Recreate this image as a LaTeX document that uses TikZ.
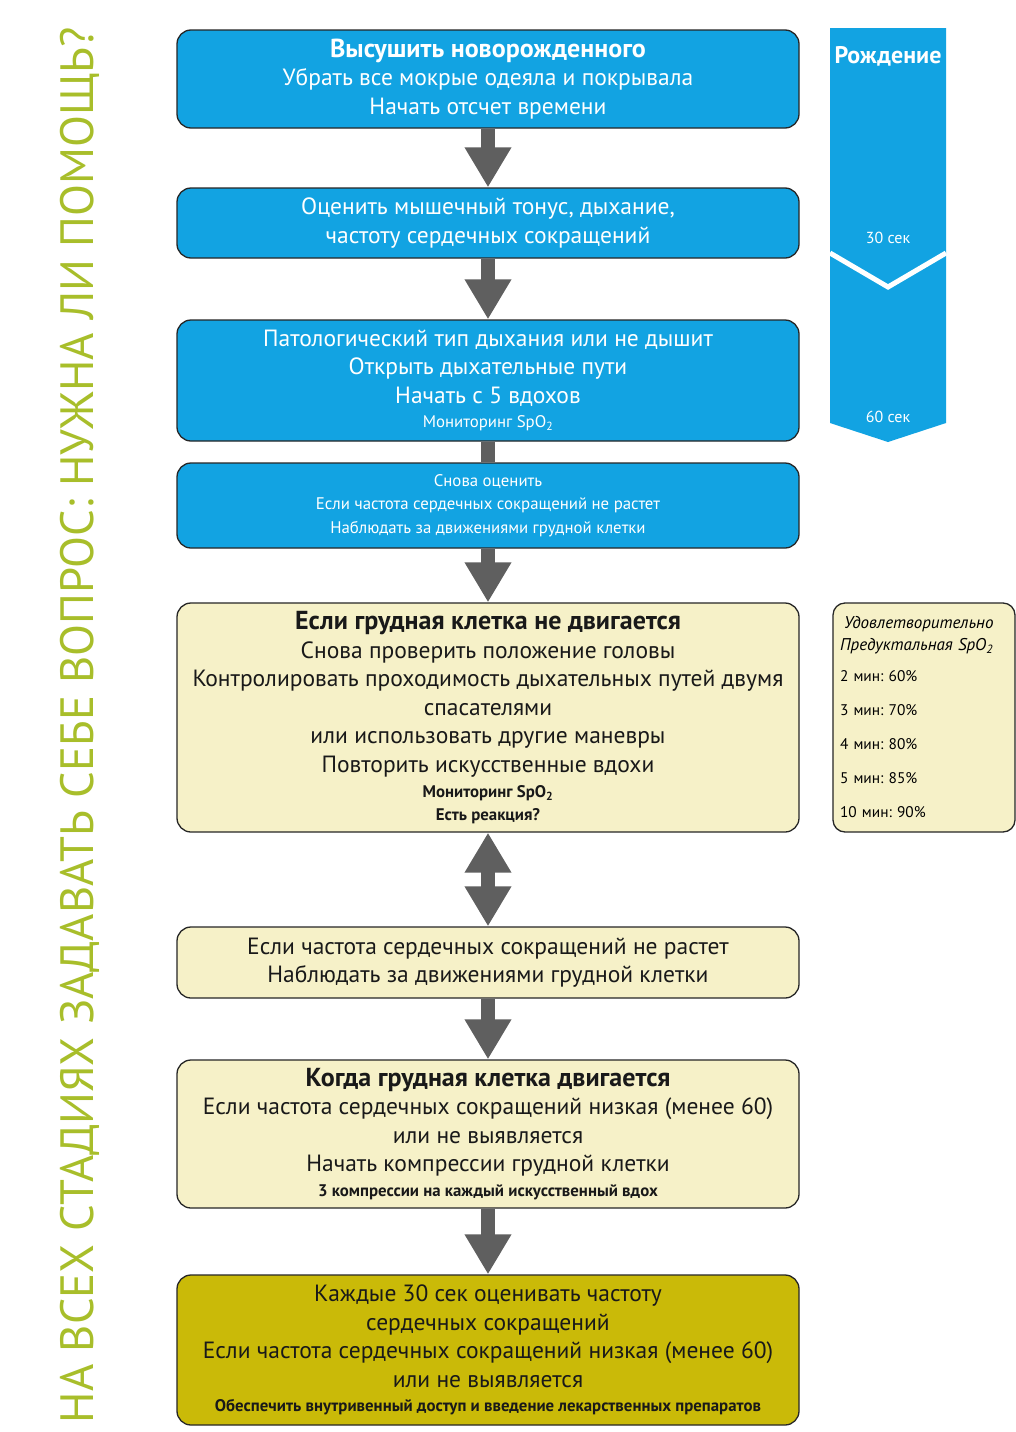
\documentclass[tikz,border=0pt]{standalone}
\usepackage{fontspec}
\setmainfont{PT Sans}
\usetikzlibrary{arrows.meta}
\frenchspacing
\definecolor{rcblue}{RGB}{18,163,226}
\definecolor{rcpale}{RGB}{246,241,200}
\definecolor{rcolive}{RGB}{202,186,8}
\definecolor{rcgreen}{RGB}{168,190,42}
\definecolor{arrgray}{RGB}{95,95,95}
\newcommand{\bigtxt}{\fontsize{23.5}{28.5}\selectfont}
\newcommand{\smalltxt}{\fontsize{16.8}{23.5}\selectfont}
\newcommand{\titletxt}[1]{{\fontsize{26}{28.5}\selectfont\bfseries #1}}
\tikzset{
  stage/.style={draw=black!85,line width=1.3pt,rounded corners=14pt,minimum width=622pt,inner sep=0pt,align=center,font=\bigtxt},
  bluestage/.style={stage,fill=rcblue,text=white},
  palestage/.style={stage,fill=rcpale,text=black!90},
  olivestage/.style={stage,fill=rcolive,text=black!90},
  flowarrow/.style={draw=arrgray,line width=14pt,-{Triangle[length=40pt,width=44pt]}},
  timelbl/.style={text=white,inner sep=0pt}
}
\begin{document}
\begin{tikzpicture}[x=1pt,y=-1pt]
  \useasboundingbox (0,0) rectangle (1016,1432);
  \fill[white] (0,0) rectangle (1016,1432);
  % time line on the right
  \fill[rcblue] (830,28) -- (946,28) -- (946,423) -- (888,442) -- (830,423) -- cycle;
  \draw[white,line width=5pt] (830,253) -- (888,287) -- (946,253);
  \node[timelbl,font=\fontsize{24}{24}\selectfont\bfseries] (birth) at (888,56) {Рождение};
  \node[timelbl,font=\fontsize{16}{16}\selectfont] (t30) at (888,238) {30 сек};
  \node[timelbl,font=\fontsize{16}{16}\selectfont] (t60) at (888,417) {60 сек};

  % motto
  \node[rotate=90,text=rcgreen,font=\fontsize{46.7}{46.7}\selectfont] (motto) at (80,725) {НА ВСЕХ СТАДИЯХ ЗАДАВАТЬ СЕБЕ ВОПРОС: НУЖНА ЛИ ПОМОЩЬ?};

  % stages
  \node[bluestage,minimum height=98pt] (dry) at (488,79) {\titletxt{Высушить новорожденного}\\Убрать все мокрые одеяла и покрывала\\Начать отсчет времени};
  \node[bluestage,minimum height=70pt] (tone) at (488,223) {Оценить мышечный тонус, дыхание,\\частоту сердечных сокращений};
  \node[bluestage,minimum height=121pt] (airway) at (488,380.5) {Патологический тип дыхания или не дышит\\Открыть дыхательные пути\\Начать с 5 вдохов\\[-4pt]{\smalltxt Мониторинг SpO\textsubscript{2}}};
  \node[bluestage,minimum height=85pt,font=\smalltxt] (recheck) at (488,505.5) {Снова оценить\\Если частота сердечных сокращений не растет\\Наблюдать за движениями грудной клетки};
  \node[palestage,minimum height=229pt] (nomove) at (488,717.5) {\titletxt{Если грудная клетка не двигается}\\Снова проверить положение головы\\Контролировать проходимость дыхательных путей двумя\\спасателями\\или использовать другие маневры\\Повторить искусственные вдохи\\[-3pt]{\smalltxt\bfseries Мониторинг SpO\textsubscript{2}}\\[-6pt]{\smalltxt\bfseries Есть реакция?}};
  \node[palestage,minimum height=71pt] (norise) at (488,962.5) {Если частота сердечных сокращений не растет\\Наблюдать за движениями грудной клетки};
  \node[palestage,minimum height=148pt] (moves) at (488,1134) {\titletxt{Когда грудная клетка двигается}\\Если частота сердечных сокращений низкая (менее 60)\\или не выявляется\\Начать компрессии грудной клетки\\[-4pt]{\smalltxt\bfseries 3 компрессии на каждый искусственный вдох}};
  \node[olivestage,minimum height=150pt] (every) at (488,1350) {Каждые 30 сек оценивать частоту\\сердечных сокращений\\Если частота сердечных сокращений низкая (менее 60)\\или не выявляется\\[-4pt]{\smalltxt\bfseries Обеспечить внутривенный доступ и введение лекарственных препаратов}};

  % SpO2 targets
  \node[draw=black!85,line width=1.3pt,rounded corners=12pt,fill=rcpale,minimum width=182pt,minimum height=229pt,text width=168pt,align=left,inner sep=0pt,font=\fontsize{15.4}{22}\selectfont] (spo) at (924,717.5) {\hspace*{4pt}{\fontsize{17}{22}\selectfont\itshape Удовлетворительно}\\{\fontsize{17}{22}\selectfont\itshape Предуктальная SpO\textsubscript{2}}\\[9pt]2 мин: 60\%\\[12pt]3 мин: 70\%\\[12pt]4 мин: 80\%\\[12pt]5 мин: 85\%\\[12pt]10 мин: 90\%};

  % connectors
  \draw[flowarrow] (dry) -- (tone);
  \draw[flowarrow] (tone) -- (airway);
  \draw[draw=arrgray,line width=14pt] (airway) -- (recheck);
  \draw[flowarrow] (recheck) -- (nomove);
  \draw[flowarrow,{Triangle[length=40pt,width=44pt]}-{Triangle[length=40pt,width=44pt]}] (nomove) -- (norise);
  \draw[flowarrow] (norise) -- (moves);
  \draw[flowarrow] (moves) -- (every);
\end{tikzpicture}
\end{document}
